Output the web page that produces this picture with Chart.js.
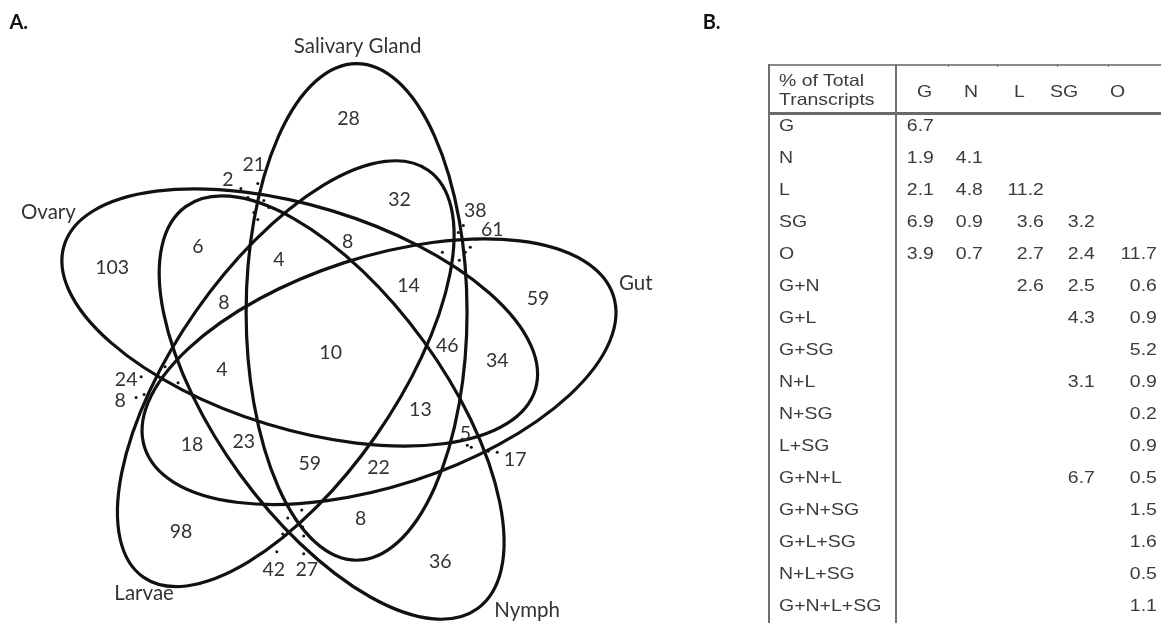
<!DOCTYPE html>
<html><head><meta charset="utf-8">
<script src="https://cdn.jsdelivr.net/npm/chart.js@4.4.1/dist/chart.umd.min.js"></script>
<style>
html,body{margin:0;padding:0;background:#fff;width:1161px;height:623px;overflow:hidden;}
#wrap{position:relative;width:1161px;height:623px;}
#c{position:absolute;left:0;top:0;}
#tbl{position:absolute;left:0;top:0;width:1161px;height:623px;font-family:"Liberation Sans",Arial,Helvetica,sans-serif;font-size:16.5px;color:#3c3c3c;}
.t{position:absolute;white-space:nowrap;line-height:1;}
.ln{position:absolute;background:#7a7a7a;}
</style></head><body>
<div id="wrap"><canvas id="c" width="1161" height="623"></canvas><div id="tbl"></div></div>
<script>
// ---- Venn data ----
const setNames = ['Salivary Gland', 'Gut', 'Nymph', 'Larvae', 'Ovary'];
const setLabelX = [357, 636, 527, 143, 47];
const setLabelY = [45, 283, 612, 595, 212];

const regionCounts = [28, 21, 2, 32, 38, 61, 6, 4, 8, 103, 14, 59, 8, 10, 46, 34, 4, 24, 8, 13, 5, 17, 18, 23, 59, 22, 8, 98, 36, 42, 27];
const regionX = [348, 253, 227, 399, 475, 492, 197, 278, 347, 111, 408, 538, 223, 330, 447, 497, 221, 125, 119, 420, 465, 515, 191, 243, 309, 378, 360, 180, 440, 273, 306];
const regionY = [117, 163, 178, 198, 209, 228, 245, 258, 240, 267, 285, 298, 302, 352, 345, 360, 369, 379, 400, 409, 433, 459, 444, 441, 463, 467, 519, 532, 562, 570, 570];

const dotX = [240, 257, 247, 263, 253, 268, 257, 463, 458, 476, 470, 465, 442, 459, 140, 164, 177, 135, 143, 152, 301, 287, 302, 282, 303, 276, 276, 303, 467, 471, 488, 497];
const dotY = [188, 183, 197, 200, 212, 207, 219, 225, 232, 239, 247, 252, 252, 260, 377, 367, 383, 398, 395, 393, 511, 519, 528, 535, 537, 543, 553, 555, 446, 448, 452, 453];

// ellipse geometry (one per set, same order as setNames)
const ellipseCX = [356.0, 378.5, 331.0, 285.0, 299.0];
const ellipseCY = [311.9, 372.0, 408.0, 374.0, 317.5];
const ellipseRot = [90, -18, 54, -55, 17];
const ellipseA = [249, 247, 249, 249, 247];
const ellipseB = [111, 115, 114, 110, 112];

// ---- Table data ----
const rowLabels = ['G', 'N', 'L', 'SG', 'O', 'G+N', 'G+L', 'G+SG', 'N+L', 'N+SG', 'L+SG', 'G+N+L', 'G+N+SG', 'G+L+SG', 'N+L+SG', 'G+N+L+SG'];
const colLabels = ['G', 'N', 'L', 'SG', 'O'];
const valG  = ['6.7', '1.9', '2.1', '6.9', '3.9', null, null, null, null, null, null, null, null, null, null, null];
const valN  = [null, '4.1', '4.8', '0.9', '0.7', null, null, null, null, null, null, null, null, null, null, null];
const valL  = [null, null, '11.2', '3.6', '2.7', '2.6', null, null, null, null, null, null, null, null, null, null];
const valSG = [null, null, null, '3.2', '2.4', '2.5', '4.3', null, '3.1', null, null, '6.7', null, null, null, null];
const valO  = [null, null, null, null, '11.7', '0.6', '0.9', '5.2', '0.9', '0.2', '0.9', '0.5', '1.5', '1.6', '0.5', '1.1'];

const TXT = '#333';
const VFONT = '"Lato", "Open Sans", sans-serif';

const ellipsePlugin = {
  id: 'ellipses',
  beforeDatasetsDraw(chart) {
    const { ctx, scales: { x, y } } = chart;
    ctx.save();
    ctx.lineWidth = 3.2;
    ctx.strokeStyle = '#111';
    for (let i = 0; i < setNames.length; i++) {
      const px = x.getPixelForValue(ellipseCX[i]);
      const py = y.getPixelForValue(ellipseCY[i]);
      const rx = Math.abs(x.getPixelForValue(ellipseCX[i] + ellipseA[i]) - px);
      const ry = Math.abs(y.getPixelForValue(ellipseCY[i] + ellipseB[i]) - py);
      ctx.beginPath();
      ctx.ellipse(px, py, rx, ry, ellipseRot[i] * Math.PI / 180, 0, Math.PI * 2);
      ctx.stroke();
    }
    ctx.restore();
  }
};

const textPlugin = {
  id: 'vennText',
  afterDatasetsDraw(chart) {
    const { ctx, scales: { x, y } } = chart;
    ctx.save();
    ctx.fillStyle = TXT;
    ctx.textAlign = 'center';
    ctx.textBaseline = 'middle';
    ctx.font = '19.5px ' + VFONT;
    const meta = chart.getDatasetMeta(0);
    meta.data.forEach((el, i) => {
      ctx.fillText(String(regionCounts[i]), el.x, el.y + 1);
    });
    ctx.font = '20.5px ' + VFONT;
    setNames.forEach((n, i) => {
      ctx.fillText(n, x.getPixelForValue(setLabelX[i]), y.getPixelForValue(setLabelY[i]));
    });
    ctx.fillStyle = '#111';
    ctx.font = 'bold 20px ' + VFONT;
    ctx.textAlign = 'left';
    ctx.fillText('A.', x.getPixelForValue(8), y.getPixelForValue(21));
    ctx.fillText('B.', x.getPixelForValue(703), y.getPixelForValue(21));
    ctx.restore();
  }
};

new Chart(document.getElementById('c'), {
  type: 'scatter',
  data: {
    datasets: [
      { label: 'regions', data: regionCounts.map((v, i) => ({ x: regionX[i], y: regionY[i] })), pointRadius: 0, pointHoverRadius: 0 },
      { label: 'dots', data: dotX.map((v, i) => ({ x: v, y: dotY[i] })), pointRadius: 1.5, pointHoverRadius: 1.5, backgroundColor: '#111', borderWidth: 0 }
    ]
  },
  options: {
    responsive: false,
    animation: false,
    devicePixelRatio: 1,
    layout: { padding: 0 },
    events: [],
    scales: {
      x: { type: 'linear', min: 0, max: 1161, display: false },
      y: { type: 'linear', min: 0, max: 623, reverse: true, display: false }
    },
    plugins: { legend: { display: false }, tooltip: { enabled: false } }
  },
  plugins: [ellipsePlugin, textPlugin]
});

// ---- Table (HTML) ----
(function () {
  const tbl = document.getElementById('tbl');
  const SX = 1.18;
  function txt(s, left, top, align) {
    const d = document.createElement('div');
    d.className = 't';
    d.textContent = s;
    d.style.top = top + 'px';
    if (align === 'right') {
      d.style.right = (1161 - left) + 'px';
      d.style.transformOrigin = 'right center';
      d.style.transform = 'translateY(-50%) scaleX(' + SX + ')';
    } else {
      d.style.left = left + 'px';
      d.style.transformOrigin = 'left center';
      d.style.transform = 'translateY(-50%) scaleX(' + SX + ')';
    }
    tbl.appendChild(d);
    if (align === 'center') {
      const w = d.getBoundingClientRect().width;
      d.style.left = (left - w / 2) + 'px';
    }
  }
  function line(l, t, w, h, c) {
    const d = document.createElement('div');
    d.className = 'ln';
    d.style.left = l + 'px'; d.style.top = t + 'px'; d.style.width = w + 'px'; d.style.height = h + 'px';
    if (c) d.style.background = c;
    tbl.appendChild(d);
  }
  line(768, 64, 393, 2, '#8a8a8a');
  line(768, 112, 393, 3, '#6a6a6a');
  line(768, 64, 2, 559, '#6f6f6f');
  line(895, 64, 2, 559, '#6f6f6f');
  [948, 997, 1057, 1108].forEach(xx => line(xx, 64, 1, 3, '#777'));
  txt('% of Total', 779, 80, 'left');
  txt('Transcripts', 779, 99, 'left');
  const colCenters = [925, 971, 1019, 1064, 1118];
  colLabels.forEach((c, i) => txt(c, colCenters[i], 91, 'center'));
  const colRight = [934, 983, 1044, 1095, 1157];
  const cols = [valG, valN, valL, valSG, valO];
  rowLabels.forEach((r, i) => {
    const yy = 125 + i * 32;
    txt(r, 779, yy, 'left');
    cols.forEach((col, j) => { if (col[i] !== null) txt(col[i], colRight[j], yy, 'right'); });
  });
})();
</script>
</body></html>
